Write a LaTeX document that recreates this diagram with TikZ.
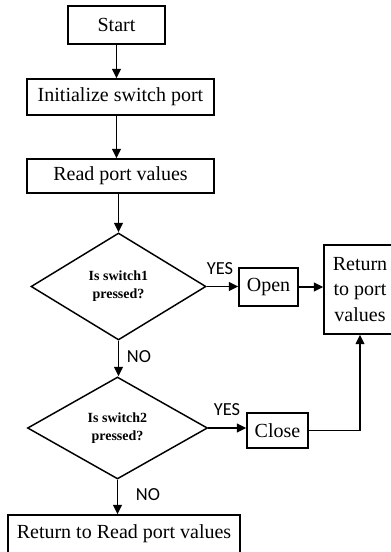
\documentclass[tikz,border=0pt]{standalone}
\usepackage{fontspec}
\setmainfont{Liberation Serif}
\newfontfamily\labelfont{Carlito}
\usetikzlibrary{shapes.geometric,arrows.meta}
\begin{document}
\begin{tikzpicture}[x=0.75pt,y=-0.75pt,
  box/.style={draw, line width=1.1pt, inner sep=0pt, font=\fontsize{15}{19}\selectfont, align=center},
  dec/.style={draw, diamond, line width=1.1pt, inner sep=0pt, aspect=1.6, font=\fontsize{10.5}{13.5}\selectfont\bfseries, align=center},
  lbl/.style={font=\labelfont\fontsize{13.8}{15}\selectfont, inner sep=0pt},
  arr/.style={line width=1.1pt, -{Triangle[length=7pt,width=6.5pt]}}]
\clip (0,0) rectangle (391,552);
\node[box, minimum width=72.75pt, minimum height=28.5pt] (start) at (116.5,25) {Start};
\node[box, minimum width=140.25pt, minimum height=27pt] (init) at (120.5,97) {Initialize switch port};
\node[box, minimum width=140.25pt, minimum height=25.5pt] (read) at (120.5,176) {Read port values};
\node[dec, minimum width=131.25pt, minimum height=80.25pt] (d1) at (118.5,286.5) {Is switch1\\pressed?};
\node[box, minimum width=44.25pt, minimum height=28.5pt] (open) at (268.5,287) {Open};
\node[box, minimum width=54pt, minimum height=66.75pt] (ret) at (360,289.5) {Return\\to port\\values};
\node[dec, minimum width=135pt, minimum height=76.5pt] (d2) at (117.5,428) {Is switch2\\pressed?};
\node[box, minimum width=45.75pt, minimum height=26.25pt] (close) at (277.5,430.5) {Close};
\node[box, minimum width=174pt, minimum height=28.5pt] (bot) at (124,534) {Return to Read port values};
\node[lbl] (yes1) at (220,269) {YES};
\node[lbl] (no1) at (139,357) {NO};
\node[lbl] (yes2) at (227,410) {YES};
\node[lbl] (no2) at (148,495) {NO};
\draw[arr] (start.south) -- (start.south |- init.north);
\draw[arr] (init.south -| start) -- (read.north -| start);
\draw[arr] (read.south -| d1) -- (d1.north);
\draw[arr] (d1.east) -- (d1.east -| open.west);
\draw[arr] (open.east) -- (open.east -| ret.west);
\draw[arr] (d1.south) -- (d1.south |- d2.north);
\draw[arr] (d2.east) -- (d2.east -| close.west);
\draw[arr] (close.east) -- (close.east -| ret.south) -- (ret.south);
\draw[arr] (d2.south) -- (d2.south |- bot.north);
\end{tikzpicture}
\end{document}
